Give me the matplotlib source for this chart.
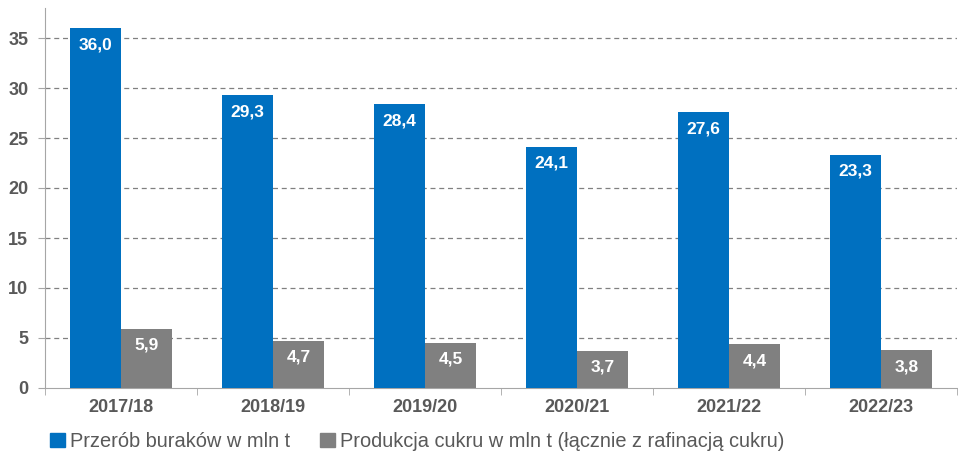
import numpy as np
import matplotlib.pyplot as plt
from matplotlib.patches import Patch

plt.rcParams['font.family'] = ['Liberation Sans', 'DejaVu Sans']

seasons = ['2017/18', '2018/19', '2019/20', '2020/21', '2021/22', '2022/23']
beets = [36.0, 29.3, 28.4, 24.1, 27.6, 23.3]
sugar = [5.9, 4.7, 4.5, 3.7, 4.4, 3.8]
labels = ['Przerób buraków w mln t', 'Produkcja cukru w mln t (łącznie z rafinacją cukru)']

blue = '#0070C0'
grey = '#808080'
text_col = '#595959'

fig = plt.figure(figsize=(9.58, 4.53), dpi=100)
ax = fig.add_axes([45/958, 65/453, 912/958, 380/453])

x = np.arange(len(seasons))
w = 0.335
b1 = ax.bar(x - w/2, beets, w, color=blue, zorder=3)
b2 = ax.bar(x + w/2, sugar, w, color=grey, zorder=3)

# value labels inside the top of bars
for bars, vals in [(b1, beets), (b2, sugar)]:
    for bar, v in zip(bars, vals):
        ax.text(bar.get_x() + bar.get_width()/2, v - 0.9, f'{v:.1f}'.replace('.', ','),
                ha='center', va='top', color='white', fontsize=12.5, fontweight='bold', zorder=4)

ax.set_xlim(-0.5, len(seasons) - 0.5)
ax.set_ylim(0, 38)
ax.set_yticks(np.arange(0, 36, 5))
ax.set_yticklabels([str(t) for t in range(0, 36, 5)], fontsize=13, fontweight='bold', color=text_col)
ax.set_xticks(x)
ax.set_xticklabels(seasons, fontsize=13, fontweight='bold', color=text_col)
ax.tick_params(axis='x', length=0, pad=8)
ax.set_xticks(np.arange(-0.5, len(seasons)), minor=True)
ax.tick_params(axis='x', which='minor', length=5, color='#A6A6A6')
ax.tick_params(axis='y', length=5, color='#A6A6A6', pad=7)

ax.yaxis.grid(True, linestyle=(0, (4, 3)), color='#808080', linewidth=0.9, zorder=0)
for t in ax.yaxis.get_gridlines()[:1]:
    t.set_visible(False)

for s in ['top', 'right']:
    ax.spines[s].set_visible(False)
ax.spines['left'].set_color('#A6A6A6')
ax.spines['bottom'].set_color('#A6A6A6')

handles = [Patch(color=blue), Patch(color=grey)]
fig.legend(handles, labels, loc='lower left', bbox_to_anchor=(38/958, -0.022), ncol=2,
           frameon=False, fontsize=14.4, handlelength=0.75, handleheight=0.75,
           handletextpad=0.25, columnspacing=1.5, labelcolor=text_col, borderaxespad=0.2)

fig.savefig('out.png', dpi=100)
